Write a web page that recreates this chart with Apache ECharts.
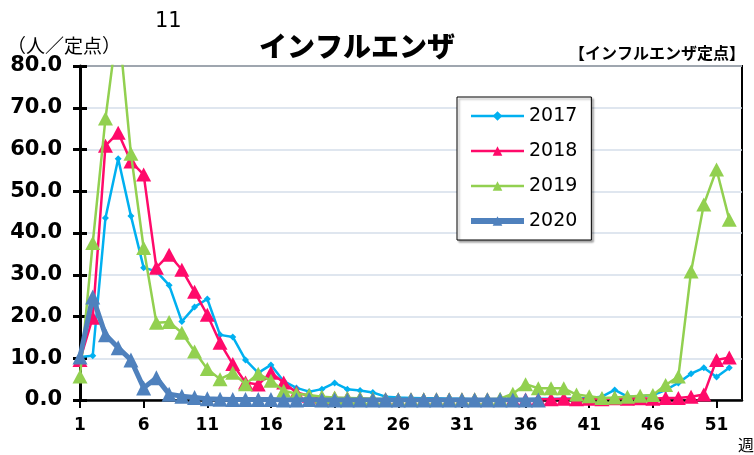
<!DOCTYPE html>
<html><head><meta charset="utf-8">
<script src="https://cdn.jsdelivr.net/npm/echarts@6/dist/echarts.min.js"></script>
<style>html,body{margin:0;padding:0;background:#fff}#c{width:754px;height:455px}</style>
</head><body><div id="c"></div>
<script>
var weeks = [];
for (var i = 1; i <= 53; i++) weeks.push(String(i));
var yTicks = [0,10,20,30,40,50,60,70,80];
var names = ['2017','2018','2019','2020'];
var d2017 = [10.3,10.6,43.6,57.8,44.1,31.7,30.8,27.5,18.8,22.3,24.2,15.6,15.1,9.6,6.5,8.4,4.5,2.9,2.0,2.6,
  4.1,2.6,2.3,1.8,0.8,0.6,0.5,0.4,0.4,0.3,0.3,0.2,0.2,0.2,0.2,0.2,0.3,0.3,0.3,0.4,
  0.5,0.8,2.4,0.8,0.9,1.2,2.4,4.1,6.3,7.7,5.5,7.7];
var d2018 = [9.6,19.7,60.9,64.0,57.1,54.0,31.7,34.8,31.2,25.9,20.4,13.7,8.6,4.2,3.7,6.5,4.2,1.8,1.0,0.6,
  0.5,0.4,0.3,0.2,0.2,0.1,0.1,0.1,0.1,0.1,0.1,0.1,0.1,0.1,0.1,0.1,0.2,0.2,0.3,0.2,
  0.3,0.2,0.4,0.3,0.4,0.3,0.5,0.5,0.8,1.3,9.6,10.2];
var d2019 = [5.6,37.6,67.4,91.0,59.0,36.4,18.5,18.7,16.1,11.6,7.4,5.0,6.5,3.8,6.3,4.6,2.2,1.5,1.2,0.8,
  0.6,0.5,0.4,0.3,0.2,0.2,0.2,0.2,0.2,0.2,0.2,0.2,0.2,0.3,1.5,3.8,2.8,2.8,2.8,1.3,
  0.9,0.5,0.6,0.8,1.0,1.2,3.6,5.6,30.8,46.8,55.2,43.2];
var d2020 = [10.3,24.7,15.6,12.5,9.6,2.9,5.3,1.4,0.9,0.6,0.3,0.2,0.1,0.1,0.1,0.1,0.0,0.0,0.1,0.0,
  0.0,0.0,0.0,0.0,0.0,0.0,0.0,0.0,0.0,0.0,0.0,0.0,0.0,0.0,0.0,0.0,0.0];

var colors = {'2017':'#00b0f0','2018':'#ff0a6a','2019':'#92d050','2020':'#4f81bd'};
var chart = echarts.init(document.getElementById('c'), null, {renderer:'canvas'});
var everyFive = function(idx){ return idx % 5 === 0; };
var yBase = {
  type:'value', min:0, max:80, interval:10
};
var option = {
  animation:false,
  backgroundColor:'#fff',
  title:[
    {text:'インフルエンザ', left:254, top:27, textStyle:{fontFamily:'Noto Sans CJK JP', fontSize:28, fontWeight:900, color:'#000'}},
    {text:'11', left:150, top:6, textStyle:{fontFamily:'DejaVu Sans', fontSize:21, fontWeight:'normal', color:'#000'}},
    {text:'（人／定点）', left:2, top:31, textStyle:{fontFamily:'Noto Sans CJK JP', fontSize:19, fontWeight:'normal', color:'#000'}},
    {text:'【インフルエンザ定点】', right:4, top:40, textStyle:{fontFamily:'Noto Sans CJK JP', fontSize:16, fontWeight:'bold', color:'#000'}},
    {text:'週', left:733, top:432, textStyle:{fontFamily:'Noto Sans CJK JP', fontSize:16, fontWeight:'normal', color:'#000'}}
  ],
  legend:{
    orient:'vertical', left:457, top:97,
    data:[
      {name:'2017', lineStyle:{width:2.5}},
      {name:'2018', lineStyle:{width:2.5}},
      {name:'2019', lineStyle:{width:2.5}},
      {name:'2020', lineStyle:{width:6}}
    ],
    itemWidth:53, itemHeight:12, itemGap:15,
    padding:[9,14,9,11],
    backgroundColor:'#fff', borderColor:'#000', borderWidth:1,
    shadowColor:'rgba(0,0,0,0.35)', shadowBlur:2, shadowOffsetX:2, shadowOffsetY:2,
    textStyle:{fontFamily:'DejaVu Sans', fontSize:19, color:'#000', lineHeight:20, padding:[0,0,0,0]}
  },
  grid:{left:80, right:12, top:66, bottom:55, show:true, borderColor:'#000', borderWidth:2, containLabel:false},
  xAxis:{
    type:'category', data:weeks, boundaryGap:false,
    axisLine:{lineStyle:{color:'#000', width:2.5}},
    axisTick:{show:true, interval:everyFive, length:8, lineStyle:{color:'#000', width:2}},
    axisLabel:{interval:everyFive, margin:17, fontFamily:'DejaVu Sans', fontSize:17, fontWeight:'bold', color:'#000'},
    splitLine:{show:false}
  },
  yAxis:[
    Object.assign({}, yBase, {
      axisLine:{show:true, lineStyle:{color:'#000', width:3}},
      axisTick:{show:true, length:7, lineStyle:{color:'#000', width:3}},
      axisLabel:{margin:18, fontFamily:'DejaVu Sans', fontSize:21, fontWeight:'bold', color:'#000',
        formatter:function(v){ return v.toFixed(1); }},
      splitLine:{show:true, lineStyle:{color:'#d5deea', width:1.5}}
    }),
    Object.assign({}, yBase, {
      position:'left',
      axisLine:{show:false},
      axisTick:{show:true, inside:true, length:7, lineStyle:{color:'#000', width:3}},
      axisLabel:{show:false},
      splitLine:{show:false}
    })
  ],
  series:[
    {name:'2017', type:'line', data:d2017, symbol:'diamond', symbolSize:7, showAllSymbol:true,
      lineStyle:{color:colors['2017'], width:2.5}, itemStyle:{color:colors['2017']}, z:2},
    {name:'2018', type:'line', data:d2018, symbol:'triangle', symbolSize:[15,14], showAllSymbol:true,
      lineStyle:{color:colors['2018'], width:2.5}, itemStyle:{color:colors['2018']}, z:3},
    {name:'2019', type:'line', data:d2019, symbol:'triangle', symbolSize:[15,14], showAllSymbol:true,
      lineStyle:{color:colors['2019'], width:2.5}, itemStyle:{color:colors['2019']}, z:4},
    {name:'2020', type:'line', data:d2020, symbol:'triangle', symbolSize:[15,15], showAllSymbol:true,
      lineStyle:{color:colors['2020'], width:5}, itemStyle:{color:colors['2020']}, z:5}
  ]
};
chart.setOption(option);
</script>
</body></html>
